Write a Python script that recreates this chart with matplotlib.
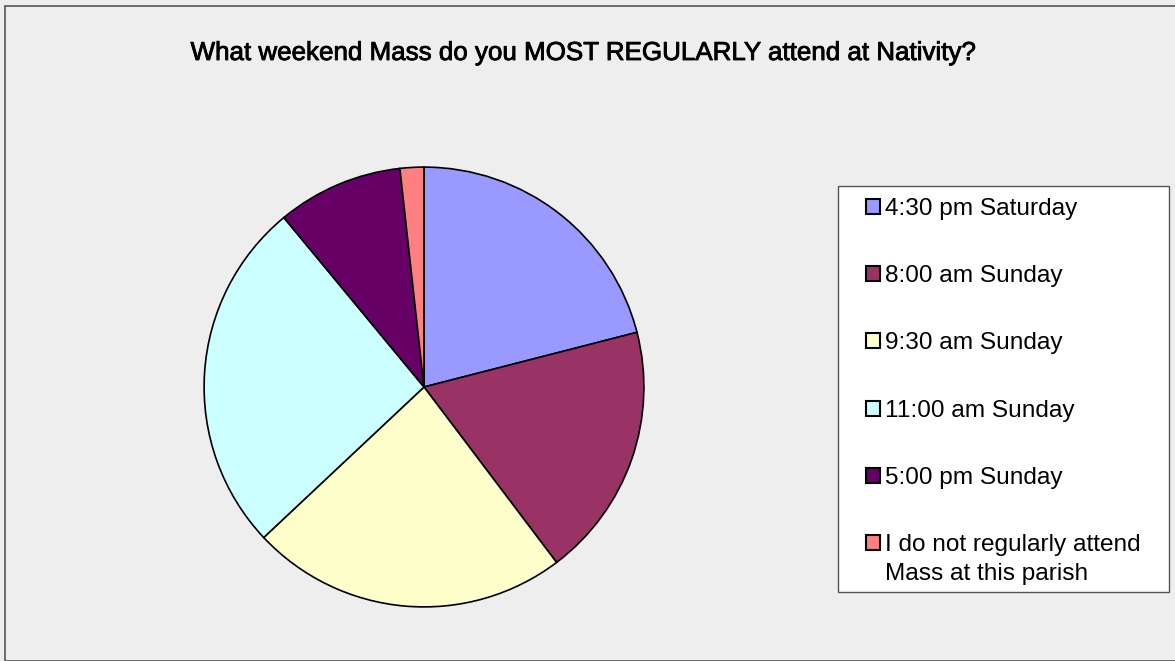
import matplotlib
matplotlib.use("Agg")
import matplotlib.pyplot as plt
from matplotlib.patches import Rectangle
from matplotlib.legend_handler import HandlerPatch
import matplotlib.patheffects as pe

# 数据：各弥撒时间所占比例（%）
labels = ['4:30 pm Saturday', '8:00 am Sunday', '9:30 am Sunday',
          '11:00 am Sunday', '5:00 pm Sunday',
          'I do not regularly attend\nMass at this parish']
shares = [21.0, 18.7, 23.3, 26.0, 9.25, 1.75]
colors = ['#9999FF', '#993366', '#FFFFCC', '#CCFFFF', '#660066', '#FF8080']
title = 'What weekend Mass do you MOST REGULARLY attend at Nativity?'

plt.rcParams['font.family'] = ['Liberation Sans', 'DejaVu Sans']

W, H = 1175, 661
fig = plt.figure(figsize=(W / 100, H / 100), dpi=100)
fig.patch.set_facecolor('#EEEEEE')

# 外框（右边和下边超出画面）
fig.patches.append(Rectangle((5 / W, 0), 1.2, 1 - 6 / H, transform=fig.transFigure,
                             fill=False, edgecolor='#555555', linewidth=1.2))

# 饼图
cx, cy, r = 424, 387, 221
ax = fig.add_axes([(cx - r) / W, (H - cy - r) / H, 2 * r / W, 2 * r / H])
wedges, _ = ax.pie(shares, colors=colors, startangle=90, counterclock=False,
                   wedgeprops=dict(edgecolor='black', linewidth=1.2))
ax.set_xlim(-1.005, 1.005)
ax.set_ylim(-1.005, 1.005)
ax.axis('off')

# 标题
t = fig.text(584 / W, 1 - 60 / H, title, ha='center', va='baseline',
             fontsize=18.7, color='black')
t.set_path_effects([pe.withStroke(linewidth=0.6, foreground='black')])

# 图例框
fig.patches.append(Rectangle((838 / W, 1 - 592 / H), (1169 - 838) / W, (592 - 186) / H,
                             transform=fig.transFigure, facecolor='white',
                             edgecolor='#555555', linewidth=1.0, zorder=0))

ls = 1.38  # 两行标签的行距

# 两行的标签：色块对齐第一行
def square(legend, orig_handle, xdescent, ydescent, width, height, fontsize):
    shift = ls / 2 * fontsize if orig_handle is wedges[-1] else 0
    return Rectangle((-xdescent, -ydescent + shift), width, height)

fs = 17.6
leg = fig.legend(wedges, labels, loc='upper left',
                 bbox_to_anchor=(866 / W, 1 - 198 / H), frameon=False,
                 fontsize=fs, handlelength=0.57, handleheight=0.57,
                 handletextpad=0.2, labelspacing=1.85, borderpad=0, borderaxespad=0,
                 handler_map={w: HandlerPatch(patch_func=square) for w in wedges})
for txt in leg.get_texts():
    txt.set_linespacing(ls)
for h in leg.legend_handles:
    h.set_linewidth(1.5)

fig.savefig('out.png', dpi=100, facecolor=fig.get_facecolor())
